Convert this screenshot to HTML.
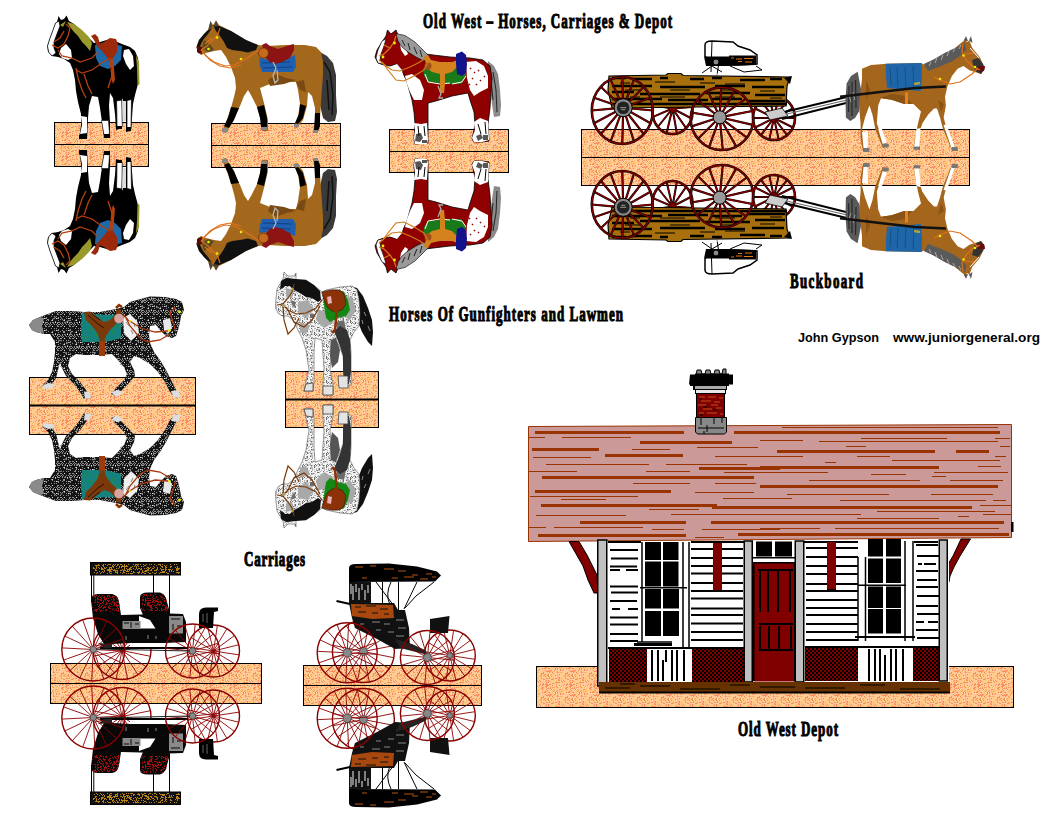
<!DOCTYPE html>
<html><head><meta charset="utf-8"><style>
html,body{margin:0;padding:0;background:#fff;}
svg{display:block;}
.h{font-family:"Liberation Serif",serif;font-weight:bold;font-size:21px;fill:#000;stroke:#000;stroke-width:1.1px;}
.s{font-family:"Liberation Sans",sans-serif;font-weight:bold;font-size:13px;fill:#000;}
</style></head><body>
<svg width="1056" height="816" viewBox="0 0 1056 816">
<defs><pattern id="pe" width="24" height="24" patternUnits="userSpaceOnUse"><rect width="24" height="24" fill="#ffcc99"/><path d="M0 0h1v1h-1zM5 0h1v1h-1zM6 0h1v1h-1zM9 0h1v1h-1zM15 0h1v1h-1zM21 0h1v1h-1zM1 1h1v1h-1zM13 1h1v1h-1zM14 1h1v1h-1zM15 1h1v1h-1zM7 2h1v1h-1zM13 2h1v1h-1zM17 2h1v1h-1zM20 2h1v1h-1zM23 2h1v1h-1zM3 3h1v1h-1zM5 3h1v1h-1zM13 3h1v1h-1zM15 3h1v1h-1zM16 3h1v1h-1zM19 3h1v1h-1zM20 3h1v1h-1zM12 4h1v1h-1zM17 4h1v1h-1zM20 4h1v1h-1zM23 4h1v1h-1zM6 5h1v1h-1zM7 5h1v1h-1zM21 5h1v1h-1zM1 6h1v1h-1zM3 6h1v1h-1zM4 6h1v1h-1zM7 6h1v1h-1zM13 6h1v1h-1zM18 6h1v1h-1zM19 6h1v1h-1zM21 6h1v1h-1zM0 7h1v1h-1zM6 7h1v1h-1zM15 7h1v1h-1zM16 7h1v1h-1zM23 7h1v1h-1zM6 8h1v1h-1zM7 8h1v1h-1zM11 8h1v1h-1zM18 8h1v1h-1zM20 8h1v1h-1zM9 9h1v1h-1zM12 9h1v1h-1zM17 9h1v1h-1zM20 9h1v1h-1zM3 10h1v1h-1zM4 10h1v1h-1zM5 10h1v1h-1zM6 10h1v1h-1zM7 10h1v1h-1zM10 10h1v1h-1zM18 10h1v1h-1zM20 10h1v1h-1zM0 11h1v1h-1zM1 11h1v1h-1zM15 11h1v1h-1zM18 11h1v1h-1zM4 12h1v1h-1zM12 12h1v1h-1zM14 12h1v1h-1zM15 12h1v1h-1zM17 12h1v1h-1zM18 12h1v1h-1zM19 12h1v1h-1zM21 12h1v1h-1zM22 12h1v1h-1zM0 13h1v1h-1zM7 13h1v1h-1zM11 13h1v1h-1zM14 13h1v1h-1zM18 13h1v1h-1zM19 13h1v1h-1zM20 13h1v1h-1zM4 14h1v1h-1zM9 14h1v1h-1zM17 14h1v1h-1zM18 14h1v1h-1zM0 15h1v1h-1zM2 15h1v1h-1zM5 15h1v1h-1zM14 15h1v1h-1zM15 15h1v1h-1zM18 15h1v1h-1zM22 15h1v1h-1zM13 16h1v1h-1zM14 16h1v1h-1zM19 16h1v1h-1zM20 16h1v1h-1zM22 16h1v1h-1zM7 17h1v1h-1zM8 17h1v1h-1zM14 17h1v1h-1zM18 17h1v1h-1zM23 17h1v1h-1zM2 18h1v1h-1zM5 18h1v1h-1zM19 18h1v1h-1zM1 19h1v1h-1zM4 19h1v1h-1zM7 19h1v1h-1zM9 19h1v1h-1zM17 19h1v1h-1zM18 19h1v1h-1zM3 20h1v1h-1zM5 20h1v1h-1zM14 20h1v1h-1zM16 20h1v1h-1zM17 20h1v1h-1zM20 20h1v1h-1zM21 20h1v1h-1zM3 21h1v1h-1zM5 21h1v1h-1zM8 21h1v1h-1zM11 21h1v1h-1zM2 22h1v1h-1zM8 22h1v1h-1zM10 22h1v1h-1zM17 22h1v1h-1zM20 22h1v1h-1zM22 22h1v1h-1zM23 22h1v1h-1zM5 23h1v1h-1zM18 23h1v1h-1zM19 23h1v1h-1zM20 23h1v1h-1zM21 23h1v1h-1zM22 23h1v1h-1z" fill="#f98c5c"/><path d="M8 0h1v1h-1zM0 1h1v1h-1zM19 1h1v1h-1zM16 2h1v1h-1zM0 3h1v1h-1zM7 3h1v1h-1zM12 3h1v1h-1zM22 3h1v1h-1zM13 4h1v1h-1zM10 5h1v1h-1zM13 5h1v1h-1zM15 5h1v1h-1zM18 5h1v1h-1zM0 6h1v1h-1zM8 6h1v1h-1zM9 6h1v1h-1zM14 6h1v1h-1zM1 7h1v1h-1zM7 7h1v1h-1zM9 7h1v1h-1zM4 8h1v1h-1zM9 8h1v1h-1zM21 8h1v1h-1zM4 9h1v1h-1zM21 9h1v1h-1zM22 9h1v1h-1zM12 10h1v1h-1zM13 10h1v1h-1zM19 10h1v1h-1zM2 12h1v1h-1zM15 13h1v1h-1zM1 15h1v1h-1zM4 15h1v1h-1zM8 15h1v1h-1zM13 15h1v1h-1zM20 15h1v1h-1zM21 16h1v1h-1zM2 17h1v1h-1zM4 17h1v1h-1zM10 17h1v1h-1zM15 17h1v1h-1zM0 18h1v1h-1zM10 18h1v1h-1zM14 18h1v1h-1zM10 19h1v1h-1zM16 19h1v1h-1zM0 20h1v1h-1zM8 20h1v1h-1zM15 20h1v1h-1zM9 21h1v1h-1zM21 21h1v1h-1zM2 23h1v1h-1z" fill="#fcc256"/></pattern><pattern id="chk" width="4" height="4" patternUnits="userSpaceOnUse"><rect x="0" y="0" width="2" height="2" fill="#000"/><rect x="2" y="2" width="2" height="2" fill="#000"/></pattern><pattern id="spk" width="12" height="12" patternUnits="userSpaceOnUse"><path d="M1 0h1v1h-1zM3 0h1v1h-1zM6 0h1v1h-1zM8 0h1v1h-1zM10 0h1v1h-1zM11 0h1v1h-1zM2 1h1v1h-1zM9 1h1v1h-1zM0 2h1v1h-1zM1 2h1v1h-1zM9 2h1v1h-1zM10 2h1v1h-1zM3 4h1v1h-1zM6 4h1v1h-1zM8 4h1v1h-1zM10 5h1v1h-1zM6 6h1v1h-1zM9 6h1v1h-1zM10 6h1v1h-1zM0 7h1v1h-1zM4 7h1v1h-1zM3 8h1v1h-1zM10 8h1v1h-1zM7 9h1v1h-1zM2 10h1v1h-1zM4 10h1v1h-1zM5 10h1v1h-1zM9 10h1v1h-1zM10 10h1v1h-1zM11 10h1v1h-1zM0 11h1v1h-1zM2 11h1v1h-1zM5 11h1v1h-1zM9 11h1v1h-1z" fill="#8c8c8c"/><path d="M4 2h1v1h-1zM8 6h1v1h-1zM4 8h1v1h-1zM7 10h1v1h-1z" fill="#e0e0e0"/></pattern><pattern id="mot" width="12" height="12" patternUnits="userSpaceOnUse"><path d="M6 0h1v1h-1zM10 0h1v1h-1zM0 1h1v1h-1zM3 1h1v1h-1zM8 1h1v1h-1zM9 1h1v1h-1zM11 1h1v1h-1zM0 2h1v1h-1zM2 2h1v1h-1zM7 3h1v1h-1zM2 4h1v1h-1zM3 4h1v1h-1zM8 4h1v1h-1zM0 5h1v1h-1zM4 5h1v1h-1zM6 5h1v1h-1zM7 5h1v1h-1zM9 5h1v1h-1zM0 6h1v1h-1zM2 6h1v1h-1zM4 6h1v1h-1zM6 6h1v1h-1zM0 7h1v1h-1zM4 7h1v1h-1zM6 7h1v1h-1zM11 7h1v1h-1zM0 8h1v1h-1zM10 8h1v1h-1zM11 8h1v1h-1zM3 9h1v1h-1zM6 9h1v1h-1zM11 9h1v1h-1zM0 10h1v1h-1zM8 10h1v1h-1zM10 10h1v1h-1zM5 11h1v1h-1zM6 11h1v1h-1zM9 11h1v1h-1zM10 11h1v1h-1z" fill="#b4b4b4"/><path d="M1 2h1v1h-1zM11 2h1v1h-1zM5 3h1v1h-1zM6 3h1v1h-1zM11 4h1v1h-1zM5 5h1v1h-1zM7 6h1v1h-1zM7 7h1v1h-1zM10 7h1v1h-1zM2 8h1v1h-1zM2 9h1v1h-1zM2 10h1v1h-1zM4 10h1v1h-1zM7 10h1v1h-1zM11 10h1v1h-1zM3 11h1v1h-1zM7 11h1v1h-1z" fill="#6e6e6e"/></pattern></defs>
<rect width="1056" height="816" fill="#fff"/>
<!-- BASES -->
<g id="bases" fill="url(#pe)" stroke="#000" stroke-width="1">
<rect x="54.5" y="122.5" width="94" height="44"/><path d="M54 144.5h95"/>
<rect x="211.5" y="123.5" width="129" height="44"/><path d="M211 145.5h130"/>
<rect x="389.5" y="129.5" width="119" height="43"/><path d="M389 151.5h120"/>
<rect x="581.5" y="129.5" width="388" height="56"/><path d="M581 157.5h389"/>
<rect x="29.5" y="377.5" width="166" height="57"/><path d="M29 405.5h167" stroke-width="2"/>
<rect x="285.5" y="371.5" width="93" height="56"/><path d="M285 399.5h94" stroke-width="2"/>
<rect x="50.5" y="663.5" width="211" height="40"/><path d="M50 683.5h212"/>
<rect x="303.5" y="665.5" width="178" height="40"/><path d="M303 685.5h179"/>
<rect x="536.5" y="666.5" width="477" height="41"/>
</g>
<!-- TEXT -->
<text class="h" transform="translate(423 28) scale(0.62 1)" x="0" y="0" textLength="401.6" lengthAdjust="spacing">Old West – Horses, Carriages &amp; Depot</text>
<text class="h" transform="translate(790 288) scale(0.62 1)" x="0" y="0" textLength="117.7" lengthAdjust="spacing">Buckboard</text>
<text class="h" transform="translate(389 321) scale(0.62 1)" x="0" y="0" textLength="377.4" lengthAdjust="spacing">Horses Of Gunfighters and Lawmen</text>
<text class="h" transform="translate(244 566) scale(0.62 1)" x="0" y="0" textLength="98.4" lengthAdjust="spacing">Carriages</text>
<text class="h" transform="translate(738 736) scale(0.62 1)" x="0" y="0" textLength="161.3" lengthAdjust="spacing">Old West Depot</text>
<text class="s" x="798" y="342" textLength="81" lengthAdjust="spacingAndGlyphs">John Gypson</text>
<text class="s" x="893" y="342" textLength="147" lengthAdjust="spacingAndGlyphs">www.juniorgeneral.org</text>
<!-- 10_horse1.txt -->
<g id="h1">
<!-- black body -->
<path d="M57 22 L58.5 16 L61 20 L64 19 L66.5 15.5 L69 21 L74 24 L82 31 L89 38 L94 43 L100 42 L110 39 L122 44 L130 47 L135 51 L138 58 L139 70 L138 84 L135 95 L133 104 L132 118 L131 131 L126 132 L126 117 L124 103 L122 98 L122 112 L122 128 L116 130 L115 114 L113 98 L110 93 L109 106 L110 122 L110 138 L104 138 L102 122 L100 108 L98 97 L92 96 L89 106 L88 118 L87 139 L79 139 L81 125 L81 114 L78 102 L76 91 L75 80 L73 70 L70 63 L64 59 L58 57 L52 56 L48 51 L47.5 46 L50 39 L53 31 L55 25 Z" fill="#000"/>
<!-- white parts -->
<path d="M55.5 23 L59 21 L60 26 L57 34 L54 42 L54 48 L56 53 L52 56 L48.5 52 L47.5 46 L50 38 L53 30Z" fill="#fff" stroke="#000" stroke-width="0.8"/>
<path d="M61 48 L66 44 L71 50 L72 58 L68 60 L62 58 L59 54Z" fill="#fff"/>
<path d="M81 116 L87 117 L87 133 L80 134 L82 125Z" fill="#fff"/>
<path d="M101.5 120.5 L108.5 120.5 L109.5 134 L104 135Z" fill="#fff" stroke="#000" stroke-width="0.6"/>
<path d="M116.5 101 L121.8 100 L122.3 126.5 L117 127 L116.8 112Z" fill="#fff" stroke="#000" stroke-width="0.7"/><path d="M122.5 101 L126 101 L126 121 L123 121Z" fill="#ddd"/>
<path d="M127 100.5 L131.5 99.5 L131 128 L127 128Z" fill="#fff" stroke="#000" stroke-width="0.7"/>
<path d="M124 50 L129 49 L133 56 L134 66 L130 70 L126 64 L123 56Z" fill="#fff"/>
<!-- hooves -->
<path d="M79 135h8v4h-8zM104 134h6v4h-6zM116 126h6v3h-6zM126 127h5v3.5h-5z" fill="#000"/>
<!-- olive mane and tail -->
<path d="M67 22 L74 24 L82 30 L89 37 L92 43 L90 51 L86 46 L82 42 L78 36 L74 32 L70 27Z" fill="#9a9a2a"/>
<path d="M60 25 L66 21 L63 27Z" fill="#9a9a2a"/>
<path d="M136 55 L139 62 L139.5 84 L137.5 86 L137 68Z" fill="#9a9a2a"/>
<!-- blue blanket -->
<path d="M95 45 L104 43 L118 45 L122 46 L121 60 L115 66 L108 69 L100 66 L96 58Z" fill="#1e6aa8"/>
<!-- saddle -->
<path d="M91 36 L95 34 L98 37 L100 44 L104 42 L110 38 L116 39 L118 44 L117 52 L113 58 L110 62 L106 56 L101 50 L97 46 L94 40Z" fill="#9c2a0a"/>
<path d="M110 58 L112 70 L111 78 L113 84 L115 80 L114 68 L114 60Z" fill="#b04010"/>
<!-- bridle / breastplate -->
<g fill="none" stroke="#b8400e" stroke-width="1.3">
<path d="M52 45 L58 48 L64 44 L68 36 L70 28 L66 24"/>
<path d="M54 42 L60 38 L64 31"/>
<path d="M58 50 L62 56 L72 58 L80 62 L92 58 L98 52"/>
<path d="M76 70 L82 73 L92 70 L103 62 L110 58"/>
<path d="M76 68 L78 78 L82 90 L86 98"/>
<path d="M84 74 L88 86 L92 94"/>
<path d="M110 60 L112 76 L108 88"/>
</g>
</g>
<use href="#h1" transform="translate(0 289) scale(1 -1)"/>

<!-- 11_horse2.txt -->
<g id="h2">
<!-- tail -->
<path d="M320 52 L327 56 L333 63 L336 75 L336 95 L337 112 L335 121 L328 122 L323 118 L320 105 L318 90 L319 72Z" fill="#3a3a3a"/>
<path d="M324 62 L330 72 L333 95 L332 115 M327 80 L329 110" stroke="#111" stroke-width="1.5" fill="none"/>
<!-- body -->
<path d="M208 30 L210.5 21 L213 25 L216 20.5 L219 25 L231 31 L246 40 L258 45 L268 46 L285 45 L305 45 L316 47 L321 52 L323 62 L323 75 L322 88 L321 102 L320 118 L318 132 L313 132 L315 122 L315 108 L312 96 L308 92 L307 106 L303 120 L297 128 L294 127 L298 116 L300 104 L298 90 L296 82 L284 82 L270 84 L260 88 L264 103 L268 120 L268 131 L262 131 L261 120 L257 107 L251 95 L248 90 L244 96 L240 106 L234 118 L229 128 L226 133 L222 132 L226 122 L231 108 L234 97 L236 88 L235 78 L231 67 L226 57 L221 50 L214 51 L206 53 L201 55 L198 53 L196.5 47 L199 40 L204 34Z" fill="#a4681c"/>
<!-- dark shading -->
<path d="M268 80 L276 74 L286 78 L296 80 L284 84 L270 86Z" fill="#7a4a14"/>
<path d="M296 82 L300 90 L306 92 L304 80Z" fill="#7a4a14"/>
<!-- black mane / face -->
<path d="M213 25 L219 26 L231 31 L246 40 L258 45 L256 50 L248 52.5 L240 51 L232 50 L227 48 L224 42 L220 36 L216 31Z" fill="#111"/>
<path d="M208 30 L212 28 L208 34 L203 40 L200 46 L202 53 L198 53 L196.5 47 L199 40 L204 34Z" fill="#111"/>
<path d="M197 46 L202 47 L202 54 L197 52Z" fill="#5a0a0a"/>
<path d="M208.5 29 L210.5 21 L212.5 27Z M214 27 L216 20.5 L218.5 26Z" fill="#444"/>
<path d="M204 40 L210 44 L214 50 L208 52 L202 48Z" fill="#5a4a20"/>
<!-- socks -->
<path d="M231 107 L239 108 L234 120 L229 128 L224 126 L228 118Z" fill="#000"/>
<path d="M257 107 L264 105 L267 118 L267 127 L261 127 L260 118Z" fill="#000"/>
<path d="M300 104 L306 106 L303 118 L298 124 L295 123 L299 114Z" fill="#000"/>
<path d="M315 113 L320 113 L320 126 L318 131 L314 131Z" fill="#000"/>
<path d="M222 128h6v4h-6zM261 127h6v3h-6zM294 124h5v3h-5zM313 130h5v3h-5z" fill="#888"/>
<!-- blanket -->
<path d="M259 58 L271 60 L286 59 L295 55 L296 67 L293 72 L280 72 L262 72 L260 66Z" fill="#1e5fb0"/>
<path d="M262 63 L290 62 M263 68 L292 67" stroke="#123f80" stroke-width="1" fill="none"/>
<!-- saddle -->
<path d="M262 45 L266 43 L270 46 L278 49 L290 45 L294 44 L294 50 L290 58 L282 62 L275 64 L270 62 L265 57Z" fill="#8e1414"/>
<circle cx="263.5" cy="53" r="5" fill="#c66a1e" stroke="#6a3008" stroke-width="0.8"/>
<path d="M273 62 L276 68 L273 76 L275 83 L278 80 L277 70" stroke="#bbb" stroke-width="1.2" fill="none"/>
<!-- bridle reins -->
<g fill="none" stroke="#e07018" stroke-width="1.1">
<path d="M201 50 L207 46 L213 40 L218 34 L220 28"/>
<path d="M201 50 L206 56 L214 62 L225 66 L234 65 L244 60 L252 55 L259 50"/>
<path d="M203 52 L210 60 L220 66 L230 68 L241 65"/>
<path d="M205 44 L212 38"/>
</g>
<circle cx="217" cy="37.5" r="1.3" fill="#ee0"/><circle cx="208.5" cy="49" r="1.3" fill="#ee0"/><circle cx="241" cy="59" r="1.3" fill="#ee0"/>
</g>
<use href="#h2" transform="translate(0 291) scale(1 -1)"/>

<!-- 12_horse3.txt -->
<g id="h3">
<!-- tail -->
<path d="M488 61 L494 66 L498 74 L500 90 L501 105 L500 116 L494 117 L492 104 L490 88 L488 76Z" fill="#8a8a8a"/>
<path d="M493 72 L496 90 L497 112 M491 80 L493 100" stroke="#222" stroke-width="1" fill="none"/>
<!-- body -->
<path d="M386 36 L387.5 30 L391 34 L396 30 L398 35 L405 37 L415 44 L425 54 L450 57 L470 58 L483 60 L490 66 L492 78 L491 92 L490 108 L488 124 L489 141 L482 142 L474 142 L472 139 L475 125 L474 112 L470 100 L468 93 L452 96 L436 101 L428 103 L428 124 L428 143 L415 144 L414 138 L415 124 L414 112 L412 100 L410 93 L407 82 L402 71 L397 64 L390 66 L384 65 L378 63 L375 57 L377 50 L382 42Z" fill="#8f0000" stroke="#000" stroke-width="0.8"/>
<!-- white patches -->
<path d="M382 41 L386 39 L384 46 L381 54 L380 60 L383 64 L378 63 L376 58 L378 50Z" fill="#fff" stroke="#000" stroke-width="0.6"/>
<path d="M400 44 L404 44 L408 54 L405 56 L401 50Z" fill="#fff"/>
<path d="M390 67 L397 64 L402 70 L403 79 L396 80 L391 74Z" fill="#fff"/>
<path d="M405 76 L412 74 L420 80 L424 90 L422 100 L414 100 L410 92 L407 84Z" fill="#fff"/>
<path d="M466 62 L476 61 L484 66 L488 76 L488 88 L480 92 L474 96 L470 90 L467 78Z" fill="#fff"/>
<path d="M470 68l1 1M474 72l1 1M478 70l1 1M472 78l1 1M480 80l1 1M476 84l1 1M484 76l1 1M469 84l1 1" stroke="#8f0000" stroke-width="1.5"/>
<!-- legs white lower -->
<path d="M414 123 L421 124 L427 123 L428 140 L427 144 L415 144 L414 138 L415 130Z" fill="#fff"/>
<path d="M474 122 L480 118 L488 121 L489 140 L482 142 L474 142 L472 138 L475 130Z" fill="#fff"/>
<path d="M416 134 l5 -1 l2 5 l-3 4 l-5 -1z M422 140 h5 v3 h-5z M476 136 l5 -2 l2 4 l-5 3z M483 135 h5 v5 h-5z" fill="#555"/>
<path d="M418 126 L419 136 M424 126 L425 136 M478 124 L481 134 M485 122 L486 134" stroke="#000" stroke-width="1"/>
<!-- grey mane -->
<path d="M396 33.5 L405 35.5 L415 42 L424 51 L429 56 L424 61 L416 57 L408 52 L402 47 L398 41Z" fill="#9a9a9a" stroke="#000" stroke-width="0.6"/>
<path d="M402 40 L405 46 M408 43 L410 50 M414 47 L417 54 M420 50 L422 57" stroke="#222" stroke-width="1"/>
<!-- saddle: green blanket -->
<path d="M423 68 L432 66 L446 66 L460 64 L466 64 L466 76 L461 84 L450 84 L438 83 L428 82 L424 76Z" fill="#1a7a1a"/>
<path d="M425 74 L428 82 L440 84 L450 83 M452 84 L462 82 L466 76" stroke="#fff" stroke-width="1" fill="none"/>
<!-- orange saddle -->
<path d="M424 56 L428 55 L431 60 L440 62 L452 62 L458 60 L458 66 L452 72 L445 74 L445 84 L444 93 L440 93 L440 74 L432 72 L427 68Z" fill="#d4821e"/>
<circle cx="428" cy="66" r="3.5" fill="#a0501a"/>
<!-- blue bedroll -->
<path d="M456 54 L462 51.5 L466 55 L467 64 L466 73 L462 76 L457 74 L456 64Z" fill="#12128c"/>
<!-- stirrup -->
<path d="M438 86 L441 94 L439 98 L443 98" stroke="#aaa" stroke-width="1.3" fill="none"/>
<!-- bridle -->
<g fill="none" stroke="#d07a1a" stroke-width="1.2">
<path d="M379 56 L384 54 L390 48 L394 42 L396 36"/>
<path d="M379 60 L386 66 L392 70 L400 71 L410 67 L420 62 L428 56"/>
<path d="M382 62 L388 70 L396 80 L404 81 L414 76 L424 70 L428 62"/>
<path d="M384 45 L390 48"/>
</g>
<circle cx="394.5" cy="43" r="1.4" fill="#ee0"/><circle cx="383" cy="57" r="1.4" fill="#ee0"/>
</g>
<use href="#h3" transform="translate(0 303) scale(1 -1)"/>

<!-- 13_horse4.txt -->
<g id="h4">
<!-- body dark -->
<path id="h4b" d="M29 325 L33 320 L40 317 L48 314 L56 311 L72 311 L84 312 L100 312 L116 309 L124 307 L130 302 L137 300 L150 296.5 L165 297 L176 299 L182 302 L184 310 L181 316 L180 322 L178 330 L176 336 L172 338 L166 336 L160 330 L156 325 L150 326 L149 335 L150 343 L154 352 L160 360 L166 370 L170 378 L175 388 L180 396 L176 398 L170 392 L165 382 L158 372 L150 364 L140 358 L134 356 L130 362 L134 370 L135 376 L128 384 L122 390 L116 396 L111 394 L116 388 L124 380 L127 374 L124 367 L116 358 L112 354 L98 355 L84 355 L76 354 L70 358 L68 366 L72 374 L80 382 L86 390 L90 398 L84 399 L80 392 L74 384 L66 376 L62 368 L60 362 L58 370 L56 378 L52 384 L46 388 L42 386 L48 380 L52 372 L54 362 L55 352 L55 342 L50 334 L44 334 L36 332 L32 330Z" fill="#141414"/><path d="M29 325 L33 320 L40 317 L48 314 L56 311 L72 311 L84 312 L100 312 L116 309 L124 307 L130 302 L137 300 L150 296.5 L165 297 L176 299 L182 302 L184 310 L181 316 L180 322 L178 330 L176 336 L172 338 L166 336 L160 330 L156 325 L150 326 L149 335 L150 343 L154 352 L160 360 L166 370 L170 378 L175 388 L180 396 L176 398 L170 392 L165 382 L158 372 L150 364 L140 358 L134 356 L130 362 L134 370 L135 376 L128 384 L122 390 L116 396 L111 394 L116 388 L124 380 L127 374 L124 367 L116 358 L112 354 L98 355 L84 355 L76 354 L70 358 L68 366 L72 374 L80 382 L86 390 L90 398 L84 399 L80 392 L74 384 L66 376 L62 368 L60 362 L58 370 L56 378 L52 384 L46 388 L42 386 L48 380 L52 372 L54 362 L55 352 L55 342 L50 334 L44 334 L36 332 L32 330Z" fill="url(#spk)"/>
<!-- grey speckle -->
<g stroke="#9a9a9a" stroke-width="1" fill="none">
<path d="M38 322l4-2M46 318l3 3M52 320l4-3M60 316l3 4M66 322l4-2M62 330l3 3M70 334l2-3M58 340l4 1M66 344l3-2M74 340l3 3M76 348l4-1M64 352l3 2M86 348l3-2M92 352l4 1M104 350l3 2"/>
<path d="M134 306l4-3M142 302l4-2M150 300l4-2M158 300l4 1M166 301l3 2M140 310l4-3M148 306l4-2M156 306l3 2M138 318l3-3M146 314l3-2M174 308l3 2M132 330l3 3M136 340l3 2M142 346l2 3M128 348l3 2M152 356l3 3M160 364l2 3M166 374l2 3M120 364l3 2M126 372l2 3M60 366l3 2M66 374l3 2M76 380l2 3M50 374l2 3"/>
</g>
<path d="M163 320 L170 318 L172 328 L168 334 L164 330Z" fill="#e8e8e8"/>
<path d="M123 318 L130 314 L137 321 L139 333 L131 341 L124 333Z" fill="#f0f0f0"/><path d="M126 322l3 4M131 330l2 4M134 324l1 3" stroke="#888" stroke-width="1"/>
<path d="M42 386 L48 383 L55 384 L52 388 L44 389Z M84 392 L90 391 L91 398 L85 399Z M111 392 L118 390 L124 392 L116 397Z M171 391 L178 390 L181 397 L174 398Z" fill="#ddd"/>
<path d="M29 325 L33 320 L40 317 L44 318 L42 326 L44 333 L36 332 L32 330Z" fill="#8a8a8a"/>
<!-- blanket teal -->
<path d="M82 313 L92 314 L108 315 L121 314 L121 338 L110 341 L96 342 L82 342 L81 330Z" fill="#15827e"/>
<path d="M86 320l2 1M90 330l2 1M95 336l2-1M112 332l2 1M116 326l2 1M100 325l1 2M108 322l2 1M85 338l2-1" stroke="#2a8a2a" stroke-width="2"/>
<!-- saddle -->
<path d="M84 312 L90 311.5 L96 316 L104 322 L110 320 L116 314 L116 310 L121 309 L121 316 L116 324 L110 330 L106 336 L104 342 L100 342 L98 334 L92 326 L86 320Z" fill="#7c3a0c"/>
<path d="M88 315 L98 324 L104 328 M92 314 L100 320" stroke="#2a1000" stroke-width="1" fill="none"/>
<path d="M99 341 L105 341 L105 356 L99 356Z" fill="#9c3c0c"/>
<circle cx="119" cy="318.5" r="4.8" fill="#d8a4a0"/>
<path d="M116 308 L119 305 L122 307" stroke="#8c3000" stroke-width="2.5" fill="none"/>
<!-- bridle -->
<g fill="none" stroke="#a8360c" stroke-width="1.3">
<path d="M175 307 L170 313 L176 332"/>
<path d="M168 331 L155 332 L141 328 L128 320 L123 314"/>
<path d="M170 334 L160 340 L148 342 L140 338 L130 326 L126 318"/>
</g>
<circle cx="179.5" cy="312" r="1.4" fill="#ee0"/><circle cx="169.5" cy="330.5" r="1.4" fill="#ee0"/><circle cx="130" cy="321" r="1" fill="#ee0"/>
</g>
<use href="#h4" transform="translate(0 812) scale(1 -1)"/>

<!-- 14_horse5.txt -->
<g id="h5">
<!-- tail black -->
<path d="M350 286 L357 288 L363 296 L368 308 L372 320 L373 332 L372 346 L368 342 L362 332 L358 322 L357 310 L355 298Z" fill="#111"/>
<path d="M364 312l2 4M368 326l2 5M362 320l1 4" stroke="#888" stroke-width="1"/>
<!-- body light -->
<path d="M283 279 L284 272 L288 276 L294 276 L296 273 L296 280 L306 280 L316 287 L322 292 L326 290 L340 287 L352 286 L357 290 L359 300 L360 314 L359 326 L354 332 L350 340 L351 352 L351 370 L352 383 L348 386 L345 383 L344 370 L343 356 L339 345 L334 338 L330 341 L331 358 L330 370 L333 384 L333 395 L323 395 L323 383 L324 368 L323 355 L322 340 L315 338 L314 352 L314 370 L314 382 L313 391 L304 391 L306 382 L309 370 L306 350 L302 338 L298 330 L293 320 L288 316 L282 316 L278 313 L275.5 308 L276 298 L277 289Z" fill="#f2f2f2" stroke="#555" stroke-width="0.6"/><path d="M283 279 L284 272 L288 276 L294 276 L296 273 L296 280 L306 280 L316 287 L322 292 L326 290 L340 287 L352 286 L357 290 L359 300 L360 314 L359 326 L354 332 L350 340 L351 352 L351 370 L352 383 L348 386 L345 383 L344 370 L343 356 L339 345 L334 338 L330 341 L331 358 L330 370 L333 384 L333 395 L323 395 L323 383 L324 368 L323 355 L322 340 L315 338 L314 352 L314 370 L314 382 L313 391 L304 391 L306 382 L309 370 L306 350 L302 338 L298 330 L293 320 L288 316 L282 316 L278 313 L275.5 308 L276 298 L277 289Z" fill="url(#mot)"/>
<!-- grey mottling -->
<g fill="#a8a8a8">
<path d="M298 302 L308 300 L314 310 L306 318 L298 312Z"/>
<path d="M318 310 L330 312 L334 322 L324 328 L316 320Z"/>
<path d="M340 300 L352 296 L356 310 L350 320 L340 314Z"/>
<path d="M300 322 L310 326 L306 334 L300 332Z"/>
<path d="M286 288 L294 290 L292 298 L286 296Z"/>
</g>
<g fill="#6a6a6a">
<path d="M336 322 L344 320 L346 330 L338 334Z"/><path d="M290 300 L296 302 L294 308Z"/><path d="M310 314l4 0l0 4l-4 0z"/>
</g>
<!-- hind legs dark -->
<path d="M334 331 L340 326 L347 330 L350 340 L351 356 L351 372 L349 384 L344 384 L343 370 L343 356 L340 346Z" fill="#333"/>
<path d="M331 340 L336 338 L340 350 L338 362 L332 368 L330 356Z" fill="#555"/>
<path d="M306 384 L313 383 L313 391 L304 391Z M323 386 L333 386 L333 395 L323 395Z M338 376 L348 376 L348 388 L339 388Z" fill="#e4e4e4" stroke="#444" stroke-width="0.8"/>
<!-- black mane -->
<path d="M281 281 L286 278 L296 279 L306 280 L314 285 L320 291 L321 300 L318 302 L312 298 L306 297 L300 293 L294 290 L290 286 L285 286 L280 290Z" fill="#111"/>
<!-- green blanket & saddle -->
<path d="M323 294 L336 290 L344 292 L348 300 L350 310 L346 316 L338 318 L330 322 L326 318 L324 306Z" fill="#138813"/>
<path d="M322 292 L330 290 L340 290 L344 294 L346 304 L342 310 L334 312 L328 308 L324 300Z" fill="#8c3208" stroke="#3a1000" stroke-width="0.6"/>
<path d="M327 297 L331 296 L332 303 L328 304Z" fill="#e8b0b0"/>
<path d="M334 311 L337 311 L335 330 L332 333" stroke="#8c3208" stroke-width="2.5" fill="none"/>
<!-- bridle -->
<g fill="none" stroke="#7a3808" stroke-width="1.2">
<path d="M294 284 L292 292 L288 298 L283 304 L277 305"/>
<path d="M283 305 L288 310 L296 314 L306 313 L316 308 L322 300"/>
<path d="M283 306 L284 320 L288 334 L294 328 L299 318"/>
<path d="M288 310 L294 322 L304 327 L312 320 L320 306"/>
</g>
<circle cx="292.5" cy="289" r="1.3" fill="#b0a040"/><circle cx="284" cy="306" r="1.3" fill="#b0a040"/>
</g>
<use href="#h5" transform="translate(0 800) scale(1 -1)"/>

<!-- 20_buckboard.txt -->
<g id="bb">
<path d="M672.5 108.5L691.6 118.5M672.5 108.5L686.1 128.1M672.5 108.5L676.9 133.5M672.5 108.5L666.6 133.0M672.5 108.5L657.8 127.0M672.5 108.5L653.0 116.9M672.5 108.5L653.4 105.5M672.5 108.5L658.9 95.9M672.5 108.5L668.1 90.5M672.5 108.5L678.4 91.0M672.5 108.5L687.2 97.0M672.5 108.5L692.0 107.1" stroke="#000" stroke-width="2.0"/>
<path d="M672.5 108.5L691.6 118.5M672.5 108.5L686.1 128.1M672.5 108.5L676.9 133.5M672.5 108.5L666.6 133.0M672.5 108.5L657.8 127.0M672.5 108.5L653.0 116.9M672.5 108.5L653.4 105.5M672.5 108.5L658.9 95.9M672.5 108.5L668.1 90.5M672.5 108.5L678.4 91.0M672.5 108.5L687.2 97.0M672.5 108.5L692.0 107.1" stroke="#800000" stroke-width="1.2"/>
<ellipse cx="672.5" cy="112" rx="20" ry="22" fill="none" stroke="#000" stroke-width="2.6"/>
<ellipse cx="672.5" cy="112" rx="20" ry="22" fill="none" stroke="#800000" stroke-width="1.5"/>
<path d="M774.0 118.0L795.0 118.0M774.0 118.0L792.9 127.5M774.0 118.0L787.1 135.2M774.0 118.0L778.7 139.4M774.0 118.0L769.3 139.4M774.0 118.0L760.9 135.2M774.0 118.0L755.1 127.5M774.0 118.0L753.0 118.0M774.0 118.0L755.1 108.5M774.0 118.0L760.9 100.8M774.0 118.0L769.3 96.6M774.0 118.0L778.7 96.6M774.0 118.0L787.1 100.8M774.0 118.0L792.9 108.5" stroke="#000" stroke-width="2.0"/>
<path d="M774.0 118.0L795.0 118.0M774.0 118.0L792.9 127.5M774.0 118.0L787.1 135.2M774.0 118.0L778.7 139.4M774.0 118.0L769.3 139.4M774.0 118.0L760.9 135.2M774.0 118.0L755.1 127.5M774.0 118.0L753.0 118.0M774.0 118.0L755.1 108.5M774.0 118.0L760.9 100.8M774.0 118.0L769.3 96.6M774.0 118.0L778.7 96.6M774.0 118.0L787.1 100.8M774.0 118.0L792.9 108.5" stroke="#800000" stroke-width="1.2"/>
<ellipse cx="774" cy="118" rx="21" ry="22" fill="none" stroke="#000" stroke-width="2.6"/>
<ellipse cx="774" cy="118" rx="21" ry="22" fill="none" stroke="#800000" stroke-width="1.5"/>
<path d="M609 76 L666 75 L668 73.5 L681 73.5 L683 75.5 L790 77 L787 86 L786 106 L612 108 L608 90Z" fill="#a8700c" stroke="#000" stroke-width="1.2"/>
<g stroke="#000" fill="none">
<path d="M612 78h14M632 79h20M660 78h8M690 79h14M712 78h10M740 80h25M770 79h12M612 86h40M660 87h45M715 86h30M752 87h32M612 92h22M640 94h60M705 93h45M755 95h30M612 99h50M668 100h40M712 99h30M748 101h37M612 104h175" stroke-width="2.4"/>
<path d="M620 83h10M655 82h20M700 83h15M725 84h20M625 90h15M670 90h20M720 90h12M760 91h15M630 97h10M660 97h25M715 97h20M770 98h12" stroke-width="1.2"/>
</g>
<path d="M784 78 L792 76 L790 84Z" fill="#000"/>
<path d="M705 45 Q705 41 712 41 L733 42 L738 46 L750 50 L757 55 L757 64 L734 65 L728 60 L708 60 L705 56Z" fill="#fff" stroke="#000" stroke-width="1.5"/>
<path d="M729 55.5 L756 55.5 L756 65 L729 66Z" fill="#000"/>
<path d="M731 58h3M736 59h6M744 58.5h9M738 61.5h4M745 62h7" stroke="#e8780e" stroke-width="1.2"/>
<path d="M704 56.5 L729 56.5 L730 66 L706 66Z" fill="#000"/>
<circle cx="716" cy="62" r="3" fill="#888" stroke="#000"/>
<path d="M712 41 L711 72 M719 62 L717 75 M702 73 L712 66 L722 72 M730 66 L744 72 M744 72 L762 70 L756 66" stroke="#000" stroke-width="1" fill="none"/>
<path d="M700 74h80" stroke="#fff" stroke-width="1"/>
<path d="M623.2 107.7L652.8 110.5M623.2 107.7L650.5 123.3M623.2 107.7L643.9 134.2M623.2 107.7L634.0 141.4M623.2 107.7L622.3 144.0M623.2 107.7L610.6 141.4M623.2 107.7L600.7 134.2M623.2 107.7L594.1 123.3M623.2 107.7L591.8 110.5M623.2 107.7L594.1 97.7M623.2 107.7L600.7 86.8M623.2 107.7L610.6 79.6M623.2 107.7L622.3 77.0M623.2 107.7L634.0 79.6M623.2 107.7L643.9 86.8M623.2 107.7L650.5 97.7" stroke="#000" stroke-width="2.2"/>
<path d="M623.2 107.7L652.8 110.5M623.2 107.7L650.5 123.3M623.2 107.7L643.9 134.2M623.2 107.7L634.0 141.4M623.2 107.7L622.3 144.0M623.2 107.7L610.6 141.4M623.2 107.7L600.7 134.2M623.2 107.7L594.1 123.3M623.2 107.7L591.8 110.5M623.2 107.7L594.1 97.7M623.2 107.7L600.7 86.8M623.2 107.7L610.6 79.6M623.2 107.7L622.3 77.0M623.2 107.7L634.0 79.6M623.2 107.7L643.9 86.8M623.2 107.7L650.5 97.7" stroke="#800000" stroke-width="1.4"/>
<ellipse cx="622.3" cy="110.5" rx="30.5" ry="33.5" fill="none" stroke="#000" stroke-width="2.6"/>
<ellipse cx="622.3" cy="110.5" rx="30.5" ry="33.5" fill="none" stroke="#800000" stroke-width="1.5"/>
<circle cx="623.2" cy="107.7" r="9" fill="#888" stroke="#000" stroke-width="1"/>
<circle cx="623.2" cy="107.7" r="6.3" fill="#222"/>
<path d="M620.2 107.7h6M621.2 109.7h4" stroke="#999" stroke-width="1"/>
<path d="M719.7 117.3L752.7 124.9M719.7 117.3L746.9 137.6M719.7 117.3L736.3 146.6M719.7 117.3L722.8 150.0M719.7 117.3L709.1 147.2M719.7 117.3L698.0 138.8M719.7 117.3L691.7 126.4M719.7 117.3L691.3 112.5M719.7 117.3L697.1 99.8M719.7 117.3L707.7 90.8M719.7 117.3L721.2 87.4M719.7 117.3L734.9 90.2M719.7 117.3L746.0 98.6M719.7 117.3L752.3 111.0" stroke="#000" stroke-width="2.2"/>
<path d="M719.7 117.3L752.7 124.9M719.7 117.3L746.9 137.6M719.7 117.3L736.3 146.6M719.7 117.3L722.8 150.0M719.7 117.3L709.1 147.2M719.7 117.3L698.0 138.8M719.7 117.3L691.7 126.4M719.7 117.3L691.3 112.5M719.7 117.3L697.1 99.8M719.7 117.3L707.7 90.8M719.7 117.3L721.2 87.4M719.7 117.3L734.9 90.2M719.7 117.3L746.0 98.6M719.7 117.3L752.3 111.0" stroke="#800000" stroke-width="1.4"/>
<ellipse cx="722" cy="118.7" rx="31.3" ry="31.3" fill="none" stroke="#000" stroke-width="2.6"/>
<ellipse cx="722" cy="118.7" rx="31.3" ry="31.3" fill="none" stroke="#800000" stroke-width="1.5"/>
<circle cx="719.7" cy="117.3" r="6.5" fill="#999" stroke="#000" stroke-width="1"/>
<path d="M776 114 L855 95 L922 83" stroke="#000" stroke-width="2.2" fill="none"/>
<path d="M782 119 L858 100 L925 87" stroke="#000" stroke-width="2.2" fill="none"/>
<path d="M776 116.5 L858 97.5" stroke="#666" stroke-width="1" fill="none"/>
<path d="M765 112 L782 108 L788 116 L770 120Z" fill="#ccc" stroke="#000" stroke-width="0.8"/>
<path d="M857.6 71.8 L851 76 L846.6 83.5 L845.5 100 L845.9 117.4 L850.3 121 L855 118 L859 111.5 L861 100 L862 94Z" fill="#5a5a5a"/>
<path d="M849 86 L848.5 112 M852 82 L852 116 M855.5 80 L856 108" stroke="#2a2a2a" stroke-width="1.2" fill="none"/>
<path d="M849 96l2 6M853 92l2 8" stroke="#aaa" stroke-width="0.8"/>
<path d="M862 68.8 L870.9 65.1 L887 63.7 L921 63 L923.8 64.4 L931.2 61.5 L943 54 L954.7 48.2 L963.5 40.9 L965 38.5 L967 42 L969.4 40.5 L972.4 48.2 L979.7 57 L984.9 68 L981.2 74 L969.4 70.3 L963.5 65.9 L957.6 68.8 L951.8 76.2 L947.4 86.5 L945 96.8 L945.9 105.6 L943.7 117.4 L945.9 126.2 L952 140 L957.6 151.2 L951.8 149.7 L943 129 L940 117.4 L937 108.5 L934 108.5 L928.2 114.4 L922.4 123.2 L920 130 L919.5 148 L913.5 148 L915 138 L918 123.2 L921 111.5 L913.5 104 L904.7 104 L891.5 99.7 L881 98.2 L878.2 105.6 L876.8 123.2 L882 138 L888.5 146 L882.6 147.5 L875.3 129 L872.4 114.4 L869.4 105.6 L865 117.4 L862 129 L868.5 151 L863 151.5 L860.6 138 L860.6 123.2 L859 105.6 L860.6 91 L862 79Z" fill="#a4661c"/>
<path d="M880 98 L892 94 L905 96 L912 104 L904 104 L891.5 99.7Z M938 100 L944 104 L941 112Z M866 80 L870 90 L866 100Z" fill="#8a5214"/>
<path d="M923.8 64 L934 59.3 L945.9 52.6 L957.6 46.8 L965 43 L966.5 49.7 L960.6 55.6 L951.8 61.5 L940 66.6 L928.2 71 Z" fill="#5a5a5a"/>
<path d="M929 66l2-4M935 63l2-5M941 60l2-5M947 56l2-5M953 52l2-4M959 49l2-4" stroke="#aaa" stroke-width="1"/>
<path d="M964 40.5 L966 36 L968 41Z M969 40.5 L971 36 L972.5 43Z" fill="#555"/>
<path d="M972 60 L978 58 L983 64 L984.5 69 L981 74 L975 71Z" fill="#333"/>
<path d="M978 66 L985 66 L984 71 L979 72Z" fill="#6a0a0a"/>
<path d="M885.6 63.7 L921.6 63 L922 75 L920.9 90.9 L887 88 L886 76Z" fill="#1f66a8"/>
<path d="M890 68 L891 86 M897 67 L898 87 M905 67 L906 88 M913 66 L914 89" stroke="#174f85" stroke-width="1"/>
<path d="M840 96.8 L880 92 L915 88 L945.9 86.5" stroke="#111" stroke-width="2.6" fill="none"/>
<path d="M914 84 L920 83" stroke="#b0a040" stroke-width="2.5"/>
<path d="M906.5 92.4 L906.5 104" stroke="#e8801e" stroke-width="3"/>
<path d="M862 132 L868 131 L867.5 148 L863.5 148Z M878.2 129 L882 129 L887 143 L882.6 144Z M916.5 129 L920.5 128 L919.5 146.8 L914 146.8Z M943.5 125 L946.5 124.7 L955 147 L951.5 148Z" fill="#fff"/>
<path d="M863.5 148h6v4h-6zM882.6 143.8h6v3.7h-6zM913.5 146.8h6.5v3h-6.5zM951.8 147h6v4h-6z" fill="#777"/>
<g fill="none" stroke="#e07018" stroke-width="1.2"><path d="M963 44 L962 52 L966 60 L972 66 L980 70"/><path d="M978 68 L972 74 L960 82 L950 84 L940 80 L934 77"/><path d="M965 54 L975 53"/></g>
<circle cx="963.5" cy="55.5" r="1.3" fill="#ee0"/><circle cx="975" cy="67" r="1.3" fill="#ee0"/><circle cx="940" cy="79" r="1.3" fill="#ee0"/>
<path d="M970 48 L979 58" stroke="#fff" stroke-width="1"/>
</g>
<use href="#bb" transform="translate(0 315) scale(1 -1)"/>
<!-- 30_carriage1.txt -->
<g id="c1">
<path d="M122 650.5L150.4 656.3M122 650.5L146.1 666.7M122 650.5L138.0 674.7M122 650.5L127.6 679.0M122 650.5L116.2 678.9M122 650.5L105.8 674.6M122 650.5L97.8 666.5M122 650.5L93.5 656.1M122 650.5L93.6 644.7M122 650.5L97.9 634.3M122 650.5L106.0 626.3M122 650.5L116.4 622.0M122 650.5L127.8 622.1M122 650.5L138.2 626.4M122 650.5L146.2 634.5M122 650.5L150.5 644.9" stroke="#8b0000" stroke-width="0.9"/>
<circle cx="122" cy="650.5" r="29" fill="none" stroke="#8b0000" stroke-width="1.4"/>
<path d="M213.5 651L239.2 654.9M213.5 651L235.8 664.4M213.5 651L228.9 671.9M213.5 651L219.7 676.2M213.5 651L209.6 676.7M213.5 651L200.1 673.3M213.5 651L192.6 666.4M213.5 651L188.3 657.2M213.5 651L187.8 647.1M213.5 651L191.2 637.6M213.5 651L198.1 630.1M213.5 651L207.3 625.8M213.5 651L217.4 625.3M213.5 651L226.9 628.7M213.5 651L234.4 635.6M213.5 651L238.7 644.8" stroke="#8b0000" stroke-width="0.9"/>
<circle cx="213.5" cy="651" r="26" fill="none" stroke="#8b0000" stroke-width="1.4"/>
<rect x="90.5" y="562.5" width="90" height="12.5" fill="#111" stroke="#000" stroke-width="1"/>
<path d="M98 564h1v1h-1zM103 564h1v1h-1zM105 564h1v1h-1zM108 564h1v1h-1zM109 564h1v1h-1zM110 564h1v1h-1zM113 564h1v1h-1zM115 564h1v1h-1zM117 564h1v1h-1zM118 564h1v1h-1zM120 564h1v1h-1zM121 564h1v1h-1zM124 564h1v1h-1zM128 564h1v1h-1zM133 564h1v1h-1zM135 564h1v1h-1zM136 564h1v1h-1zM137 564h1v1h-1zM138 564h1v1h-1zM140 564h1v1h-1zM143 564h1v1h-1zM146 564h1v1h-1zM149 564h1v1h-1zM151 564h1v1h-1zM154 564h1v1h-1zM158 564h1v1h-1zM159 564h1v1h-1zM160 564h1v1h-1zM162 564h1v1h-1zM170 564h1v1h-1zM174 564h1v1h-1zM176 564h1v1h-1zM95 565h1v1h-1zM96 565h1v1h-1zM97 565h1v1h-1zM98 565h1v1h-1zM99 565h1v1h-1zM102 565h1v1h-1zM103 565h1v1h-1zM107 565h1v1h-1zM112 565h1v1h-1zM114 565h1v1h-1zM117 565h1v1h-1zM122 565h1v1h-1zM124 565h1v1h-1zM126 565h1v1h-1zM135 565h1v1h-1zM137 565h1v1h-1zM144 565h1v1h-1zM145 565h1v1h-1zM156 565h1v1h-1zM160 565h1v1h-1zM164 565h1v1h-1zM166 565h1v1h-1zM96 566h1v1h-1zM103 566h1v1h-1zM112 566h1v1h-1zM113 566h1v1h-1zM116 566h1v1h-1zM119 566h1v1h-1zM121 566h1v1h-1zM122 566h1v1h-1zM123 566h1v1h-1zM124 566h1v1h-1zM125 566h1v1h-1zM126 566h1v1h-1zM127 566h1v1h-1zM132 566h1v1h-1zM134 566h1v1h-1zM136 566h1v1h-1zM138 566h1v1h-1zM141 566h1v1h-1zM143 566h1v1h-1zM153 566h1v1h-1zM161 566h1v1h-1zM162 566h1v1h-1zM165 566h1v1h-1zM170 566h1v1h-1zM171 566h1v1h-1zM177 566h1v1h-1zM93 567h1v1h-1zM96 567h1v1h-1zM98 567h1v1h-1zM101 567h1v1h-1zM104 567h1v1h-1zM106 567h1v1h-1zM109 567h1v1h-1zM110 567h1v1h-1zM111 567h1v1h-1zM113 567h1v1h-1zM119 567h1v1h-1zM121 567h1v1h-1zM124 567h1v1h-1zM130 567h1v1h-1zM131 567h1v1h-1zM136 567h1v1h-1zM147 567h1v1h-1zM148 567h1v1h-1zM150 567h1v1h-1zM154 567h1v1h-1zM157 567h1v1h-1zM162 567h1v1h-1zM165 567h1v1h-1zM166 567h1v1h-1zM170 567h1v1h-1zM175 567h1v1h-1zM177 567h1v1h-1zM93 568h1v1h-1zM94 568h1v1h-1zM96 568h1v1h-1zM99 568h1v1h-1zM101 568h1v1h-1zM102 568h1v1h-1zM104 568h1v1h-1zM105 568h1v1h-1zM109 568h1v1h-1zM111 568h1v1h-1zM116 568h1v1h-1zM118 568h1v1h-1zM124 568h1v1h-1zM126 568h1v1h-1zM129 568h1v1h-1zM130 568h1v1h-1zM133 568h1v1h-1zM136 568h1v1h-1zM138 568h1v1h-1zM139 568h1v1h-1zM141 568h1v1h-1zM144 568h1v1h-1zM146 568h1v1h-1zM148 568h1v1h-1zM149 568h1v1h-1zM152 568h1v1h-1zM153 568h1v1h-1zM157 568h1v1h-1zM160 568h1v1h-1zM165 568h1v1h-1zM176 568h1v1h-1zM177 568h1v1h-1zM178 568h1v1h-1zM179 568h1v1h-1zM95 569h1v1h-1zM101 569h1v1h-1zM102 569h1v1h-1zM103 569h1v1h-1zM107 569h1v1h-1zM108 569h1v1h-1zM109 569h1v1h-1zM110 569h1v1h-1zM111 569h1v1h-1zM112 569h1v1h-1zM114 569h1v1h-1zM122 569h1v1h-1zM124 569h1v1h-1zM127 569h1v1h-1zM128 569h1v1h-1zM129 569h1v1h-1zM130 569h1v1h-1zM131 569h1v1h-1zM135 569h1v1h-1zM137 569h1v1h-1zM140 569h1v1h-1zM141 569h1v1h-1zM147 569h1v1h-1zM148 569h1v1h-1zM151 569h1v1h-1zM156 569h1v1h-1zM157 569h1v1h-1zM161 569h1v1h-1zM162 569h1v1h-1zM163 569h1v1h-1zM165 569h1v1h-1zM166 569h1v1h-1zM168 569h1v1h-1zM169 569h1v1h-1zM170 569h1v1h-1zM172 569h1v1h-1zM176 569h1v1h-1zM177 569h1v1h-1zM178 569h1v1h-1zM95 570h1v1h-1zM96 570h1v1h-1zM104 570h1v1h-1zM107 570h1v1h-1zM108 570h1v1h-1zM109 570h1v1h-1zM110 570h1v1h-1zM113 570h1v1h-1zM114 570h1v1h-1zM115 570h1v1h-1zM116 570h1v1h-1zM117 570h1v1h-1zM120 570h1v1h-1zM121 570h1v1h-1zM123 570h1v1h-1zM124 570h1v1h-1zM125 570h1v1h-1zM127 570h1v1h-1zM129 570h1v1h-1zM142 570h1v1h-1zM145 570h1v1h-1zM146 570h1v1h-1zM147 570h1v1h-1zM148 570h1v1h-1zM150 570h1v1h-1zM151 570h1v1h-1zM154 570h1v1h-1zM155 570h1v1h-1zM156 570h1v1h-1zM161 570h1v1h-1zM165 570h1v1h-1zM169 570h1v1h-1zM171 570h1v1h-1zM176 570h1v1h-1zM177 570h1v1h-1zM99 571h1v1h-1zM102 571h1v1h-1zM104 571h1v1h-1zM109 571h1v1h-1zM110 571h1v1h-1zM111 571h1v1h-1zM115 571h1v1h-1zM117 571h1v1h-1zM123 571h1v1h-1zM126 571h1v1h-1zM127 571h1v1h-1zM128 571h1v1h-1zM131 571h1v1h-1zM133 571h1v1h-1zM139 571h1v1h-1zM142 571h1v1h-1zM144 571h1v1h-1zM145 571h1v1h-1zM146 571h1v1h-1zM162 571h1v1h-1zM163 571h1v1h-1zM164 571h1v1h-1zM169 571h1v1h-1zM171 571h1v1h-1zM173 571h1v1h-1zM94 572h1v1h-1zM97 572h1v1h-1zM101 572h1v1h-1zM103 572h1v1h-1zM109 572h1v1h-1zM115 572h1v1h-1zM116 572h1v1h-1zM117 572h1v1h-1zM120 572h1v1h-1zM123 572h1v1h-1zM124 572h1v1h-1zM133 572h1v1h-1zM134 572h1v1h-1zM137 572h1v1h-1zM138 572h1v1h-1zM139 572h1v1h-1zM142 572h1v1h-1zM143 572h1v1h-1zM148 572h1v1h-1zM152 572h1v1h-1zM156 572h1v1h-1zM160 572h1v1h-1zM161 572h1v1h-1zM162 572h1v1h-1zM163 572h1v1h-1zM164 572h1v1h-1zM166 572h1v1h-1zM176 572h1v1h-1zM177 572h1v1h-1zM178 572h1v1h-1zM179 572h1v1h-1zM96 573h1v1h-1zM100 573h1v1h-1zM107 573h1v1h-1zM110 573h1v1h-1zM111 573h1v1h-1zM117 573h1v1h-1zM122 573h1v1h-1zM126 573h1v1h-1zM128 573h1v1h-1zM130 573h1v1h-1zM131 573h1v1h-1zM132 573h1v1h-1zM138 573h1v1h-1zM141 573h1v1h-1zM144 573h1v1h-1zM145 573h1v1h-1zM149 573h1v1h-1zM150 573h1v1h-1zM154 573h1v1h-1zM155 573h1v1h-1zM159 573h1v1h-1zM167 573h1v1h-1zM168 573h1v1h-1zM178 573h1v1h-1z" fill="#b8841a"/>
<path d="M91.5 575v27M93.8 575v20M153.5 575v18M169.5 575v38" stroke="#000" stroke-width="1"/>
<path d="M91 600 Q91 594 98 594 L112 594 Q118 595 119 602 L121 615 L141 614.5 L169 613.5 L183 614 L186 622 L186 642 L165 643 L131 643 L112 644 L104 644 L98 634 L93 618Z" fill="#080808"/>
<path d="M140 597 Q140 592.5 148 592.5 L160 592.5 Q166 594 167 602 L170 613 L168 628 L156 629 L150 620 L143 615 L140 608Z" fill="#080808"/>
<path d="M139 616 L150 620 L155.5 628.5 L139 628.5Z" fill="#fff"/>
<clipPath id="c1s"><path d="M91 600 Q91 594 98 594 L112 594 Q118 595 119 602 L121 614 L93 614Z M140 597 Q140 592.5 148 592.5 L160 592.5 Q166 594 167 602 L169 612 L141 612Z"/></clipPath><path d="M94 595h1v1h-1zM96 595h1v1h-1zM99 595h1v1h-1zM102 595h1v1h-1zM107 595h1v1h-1zM108 595h1v1h-1zM109 595h1v1h-1zM116 595h1v1h-1zM93 596h1v1h-1zM94 596h1v1h-1zM95 596h1v1h-1zM98 596h1v1h-1zM101 596h1v1h-1zM104 596h1v1h-1zM107 596h1v1h-1zM109 596h1v1h-1zM112 596h1v1h-1zM113 596h1v1h-1zM114 596h1v1h-1zM116 596h1v1h-1zM117 596h1v1h-1zM95 597h1v1h-1zM97 597h1v1h-1zM100 597h1v1h-1zM103 597h1v1h-1zM104 597h1v1h-1zM107 597h1v1h-1zM110 597h1v1h-1zM112 597h1v1h-1zM117 597h1v1h-1zM97 598h1v1h-1zM101 598h1v1h-1zM104 598h1v1h-1zM106 598h1v1h-1zM108 598h1v1h-1zM113 598h1v1h-1zM116 598h1v1h-1zM95 599h1v1h-1zM97 599h1v1h-1zM98 599h1v1h-1zM100 599h1v1h-1zM104 599h1v1h-1zM105 599h1v1h-1zM106 599h1v1h-1zM111 599h1v1h-1zM113 599h1v1h-1zM114 599h1v1h-1zM117 599h1v1h-1zM95 600h1v1h-1zM100 600h1v1h-1zM101 600h1v1h-1zM103 600h1v1h-1zM105 600h1v1h-1zM107 600h1v1h-1zM108 600h1v1h-1zM109 600h1v1h-1zM113 600h1v1h-1zM118 600h1v1h-1zM97 601h1v1h-1zM103 601h1v1h-1zM108 601h1v1h-1zM112 601h1v1h-1zM117 601h1v1h-1zM94 602h1v1h-1zM95 602h1v1h-1zM97 602h1v1h-1zM98 602h1v1h-1zM102 602h1v1h-1zM106 602h1v1h-1zM112 602h1v1h-1zM114 602h1v1h-1zM116 602h1v1h-1zM117 602h1v1h-1zM118 602h1v1h-1zM119 602h1v1h-1zM100 603h1v1h-1zM101 603h1v1h-1zM103 603h1v1h-1zM106 603h1v1h-1zM107 603h1v1h-1zM109 603h1v1h-1zM110 603h1v1h-1zM113 603h1v1h-1zM114 603h1v1h-1zM115 603h1v1h-1zM97 604h1v1h-1zM99 604h1v1h-1zM105 604h1v1h-1zM106 604h1v1h-1zM111 604h1v1h-1zM114 604h1v1h-1zM116 604h1v1h-1zM119 604h1v1h-1zM99 605h1v1h-1zM102 605h1v1h-1zM109 605h1v1h-1zM113 605h1v1h-1zM114 605h1v1h-1zM116 605h1v1h-1zM117 605h1v1h-1zM118 605h1v1h-1zM119 605h1v1h-1zM98 606h1v1h-1zM101 606h1v1h-1zM104 606h1v1h-1zM108 606h1v1h-1zM110 606h1v1h-1zM116 606h1v1h-1zM117 606h1v1h-1zM92 607h1v1h-1zM99 607h1v1h-1zM100 607h1v1h-1zM103 607h1v1h-1zM104 607h1v1h-1zM105 607h1v1h-1zM108 607h1v1h-1zM109 607h1v1h-1zM117 607h1v1h-1zM98 608h1v1h-1zM103 608h1v1h-1zM109 608h1v1h-1zM110 608h1v1h-1zM113 608h1v1h-1zM116 608h1v1h-1zM118 608h1v1h-1zM95 609h1v1h-1zM96 609h1v1h-1zM97 609h1v1h-1zM99 609h1v1h-1zM106 609h1v1h-1zM112 609h1v1h-1zM115 609h1v1h-1zM118 609h1v1h-1zM94 610h1v1h-1zM95 610h1v1h-1zM96 610h1v1h-1zM100 610h1v1h-1zM101 610h1v1h-1zM103 610h1v1h-1zM105 610h1v1h-1zM106 610h1v1h-1zM114 610h1v1h-1zM116 610h1v1h-1zM117 610h1v1h-1zM118 610h1v1h-1zM96 611h1v1h-1zM100 611h1v1h-1zM110 611h1v1h-1zM118 611h1v1h-1zM143 594h1v1h-1zM144 594h1v1h-1zM146 594h1v1h-1zM150 594h1v1h-1zM155 594h1v1h-1zM162 594h1v1h-1zM163 594h1v1h-1zM165 594h1v1h-1zM166 594h1v1h-1zM141 595h1v1h-1zM144 595h1v1h-1zM146 595h1v1h-1zM150 595h1v1h-1zM153 595h1v1h-1zM166 595h1v1h-1zM143 596h1v1h-1zM147 596h1v1h-1zM153 596h1v1h-1zM156 596h1v1h-1zM160 596h1v1h-1zM161 596h1v1h-1zM142 597h1v1h-1zM152 597h1v1h-1zM156 597h1v1h-1zM161 597h1v1h-1zM162 597h1v1h-1zM166 597h1v1h-1zM145 598h1v1h-1zM147 598h1v1h-1zM148 598h1v1h-1zM150 598h1v1h-1zM153 598h1v1h-1zM155 598h1v1h-1zM163 598h1v1h-1zM164 598h1v1h-1zM166 598h1v1h-1zM142 599h1v1h-1zM143 599h1v1h-1zM145 599h1v1h-1zM152 599h1v1h-1zM157 599h1v1h-1zM158 599h1v1h-1zM162 599h1v1h-1zM167 599h1v1h-1zM142 600h1v1h-1zM143 600h1v1h-1zM145 600h1v1h-1zM146 600h1v1h-1zM148 600h1v1h-1zM149 600h1v1h-1zM150 600h1v1h-1zM153 600h1v1h-1zM154 600h1v1h-1zM156 600h1v1h-1zM164 600h1v1h-1zM166 600h1v1h-1zM145 601h1v1h-1zM152 601h1v1h-1zM153 601h1v1h-1zM155 601h1v1h-1zM156 601h1v1h-1zM157 601h1v1h-1zM158 601h1v1h-1zM160 601h1v1h-1zM164 601h1v1h-1zM166 601h1v1h-1zM145 602h1v1h-1zM147 602h1v1h-1zM148 602h1v1h-1zM149 602h1v1h-1zM150 602h1v1h-1zM152 602h1v1h-1zM154 602h1v1h-1zM158 602h1v1h-1zM160 602h1v1h-1zM161 602h1v1h-1zM142 603h1v1h-1zM147 603h1v1h-1zM148 603h1v1h-1zM149 603h1v1h-1zM157 603h1v1h-1zM161 603h1v1h-1zM142 604h1v1h-1zM144 604h1v1h-1zM145 604h1v1h-1zM147 604h1v1h-1zM148 604h1v1h-1zM152 604h1v1h-1zM157 604h1v1h-1zM158 604h1v1h-1zM159 604h1v1h-1zM160 604h1v1h-1zM163 604h1v1h-1zM144 605h1v1h-1zM147 605h1v1h-1zM148 605h1v1h-1zM149 605h1v1h-1zM150 605h1v1h-1zM151 605h1v1h-1zM154 605h1v1h-1zM155 605h1v1h-1zM156 605h1v1h-1zM159 605h1v1h-1zM162 605h1v1h-1zM164 605h1v1h-1zM165 605h1v1h-1zM149 606h1v1h-1zM150 606h1v1h-1zM151 606h1v1h-1zM166 606h1v1h-1zM150 607h1v1h-1zM151 607h1v1h-1zM155 607h1v1h-1zM156 607h1v1h-1zM165 607h1v1h-1zM166 607h1v1h-1zM167 607h1v1h-1zM141 608h1v1h-1zM151 608h1v1h-1zM152 608h1v1h-1zM157 608h1v1h-1zM161 608h1v1h-1zM165 608h1v1h-1zM166 608h1v1h-1zM167 608h1v1h-1zM141 609h1v1h-1zM143 609h1v1h-1zM149 609h1v1h-1zM151 609h1v1h-1zM157 609h1v1h-1zM161 609h1v1h-1zM163 609h1v1h-1zM164 609h1v1h-1zM165 609h1v1h-1zM167 609h1v1h-1zM142 610h1v1h-1zM144 610h1v1h-1zM150 610h1v1h-1zM151 610h1v1h-1zM152 610h1v1h-1zM155 610h1v1h-1zM156 610h1v1h-1zM159 610h1v1h-1zM161 610h1v1h-1zM162 610h1v1h-1zM166 610h1v1h-1z" fill="#a01010" clip-path="url(#c1s)"/>
<path d="M122.5 621h18v8h-18zM169 616h14v17.5h-14z" fill="#8a8a8a"/>
<path d="M124 623h5M131 622v6M135 624h4M171 619h9M173 624v6M177 626h4M126 634v5M145 633v6M150 634v4M158 633v6M164 634v5" stroke="#080808" stroke-width="1"/>
<path d="M126 636v4M148 635v4M156 636v3" stroke="#8a8a8a" stroke-width="1"/>
<path d="M130 643h56v4.5h-56z" fill="#fff"/>
<path d="M100 648h88" stroke="#000" stroke-width="2"/>
<path d="M98 643 L104 648 L112 648 L112 644Z" fill="#222"/>
<path d="M199 628 L199 614 Q199 607.5 206 607.5 L218 607.5 L218 611 L214 612 L213 628Z" fill="#000"/><path d="M203 614v8M207 613v10" stroke="#666" stroke-width="1"/>
<path d="M93.3 649.5L124.8 651.1M93.3 649.5L121.8 663.0M93.3 649.5L114.4 672.9M93.3 649.5L103.9 679.2M93.3 649.5L91.7 681.0M93.3 649.5L79.8 678.0M93.3 649.5L69.9 670.6M93.3 649.5L63.6 660.1M93.3 649.5L61.8 647.9M93.3 649.5L64.8 636.0M93.3 649.5L72.2 626.1M93.3 649.5L82.7 619.8M93.3 649.5L94.9 618.0M93.3 649.5L106.8 621.0M93.3 649.5L116.7 628.4M93.3 649.5L123.0 638.9" stroke="#8b0000" stroke-width="0.9"/>
<circle cx="93.3" cy="649.5" r="31.5" fill="none" stroke="#8b0000" stroke-width="1.4"/>
<circle cx="93.3" cy="649.5" r="3.2" fill="#888" stroke="#444" stroke-width="0.8"/>
<path d="M192.5 651L219.4 653.7M192.5 651L216.3 663.8M192.5 651L209.6 671.9M192.5 651L200.3 676.9M192.5 651L189.8 677.9M192.5 651L179.7 674.8M192.5 651L171.6 668.1M192.5 651L166.6 658.8M192.5 651L165.6 648.3M192.5 651L168.7 638.2M192.5 651L175.4 630.1M192.5 651L184.7 625.1M192.5 651L195.2 624.1M192.5 651L205.3 627.2M192.5 651L213.4 633.9M192.5 651L218.4 643.2" stroke="#8b0000" stroke-width="0.9"/>
<circle cx="192.5" cy="651" r="27" fill="none" stroke="#8b0000" stroke-width="1.4"/>
<circle cx="192.5" cy="651" r="3.2" fill="#888" stroke="#444" stroke-width="0.8"/>
<path d="M96 649 L190 651" stroke="#222" stroke-width="1.2"/>
</g><use href="#c1" transform="translate(0 1367) scale(1 -1)"/>
<!-- 31_carriage2.txt -->
<g id="c2">
<path d="M363.4 651.5L393.8 657.7M363.4 651.5L389.1 668.8M363.4 651.5L380.5 677.3M363.4 651.5L369.3 681.9M363.4 651.5L357.2 681.9M363.4 651.5L346.1 677.2M363.4 651.5L337.6 668.6M363.4 651.5L333.0 657.4M363.4 651.5L333.0 645.3M363.4 651.5L337.7 634.2M363.4 651.5L346.3 625.7M363.4 651.5L357.5 621.1M363.4 651.5L369.6 621.1M363.4 651.5L380.7 625.8M363.4 651.5L389.2 634.4M363.4 651.5L393.8 645.6" stroke="#8b0000" stroke-width="0.9"/>
<circle cx="363.4" cy="651.5" r="31" fill="none" stroke="#8b0000" stroke-width="1.4"/>
<path d="M449.8 655.5L475.0 659.3M449.8 655.5L471.6 668.7M449.8 655.5L464.9 676.0M449.8 655.5L455.9 680.3M449.8 655.5L446.0 680.7M449.8 655.5L436.6 677.3M449.8 655.5L429.3 670.6M449.8 655.5L425.0 661.6M449.8 655.5L424.6 651.7M449.8 655.5L428.0 642.3M449.8 655.5L434.7 635.0M449.8 655.5L443.7 630.7M449.8 655.5L453.6 630.3M449.8 655.5L463.0 633.7M449.8 655.5L470.3 640.4M449.8 655.5L474.6 649.4" stroke="#8b0000" stroke-width="0.9"/>
<circle cx="449.8" cy="655.5" r="25.5" fill="none" stroke="#8b0000" stroke-width="1.4"/>
<circle cx="449.8" cy="655.5" r="2.8" fill="#888" stroke="#444" stroke-width="0.8"/>
<circle cx="363.4" cy="651.5" r="4" fill="#888" stroke="#444" stroke-width="0.8"/>
<path d="M349 568 Q349 564 356 564 L389 563.5 L417 566.5 L437 571.5 L441 575.5 L435 581.5 L349 582Z" fill="#000"/>
<path d="M355 567h8M370 566h6M384 569h10M398 571h8M412 575h6M362 578h5M392 578h6M404 577h10M420 579h8M426 574h6M432 577h4" stroke="#b45414" stroke-width="1"/>
<path d="M349 582h22v21h-22z" fill="#111"/>
<path d="M351 584v10M353 586v14M356 584v8M359 588v12M362 584v6M365 590v10M368 585v8" stroke="#ccc" stroke-width="1.2"/>
<path d="M382.5 582v28M398.5 582v28M376 582 L397 610M417 582 L404 609M434 582 L416 596 L405 608M391 582 Q385 594 390 605" stroke="#000" stroke-width="1" fill="none"/>
<path d="M349 603 L394 603 L398 610 L405 610 L409 628 L410 648 L395 649 L377 639 L355 628 L352 618Z" fill="#111"/>
<path d="M351 604 L393 605 L394 618 L372 619 L352 616Z" fill="#a8480e"/>
<path d="M355 607h6M366 606h10M380 609h8M358 612h8M372 613h6M384 614h5" stroke="#111" stroke-width="1.2"/>
<path d="M372 622h8M384 624h6M396 620h8M398 628h8M388 632h6M396 636h8M376 630h5M360 624h4" stroke="#888" stroke-width="1.2"/>
<path d="M336.5 601 L350 604" stroke="#000" stroke-width="2"/>
<path d="M430 619 L449.5 616 L448 633 L430 633Z" fill="#111"/>
<path d="M395 639 L412 644 L425 650 L428 655 L420 653 L400 648Z" fill="#222"/>
<path d="M347.2 652.8L377.2 654.3M347.2 652.8L374.3 665.7M347.2 652.8L367.3 675.0M347.2 652.8L357.3 681.1M347.2 652.8L345.7 682.8M347.2 652.8L334.3 679.9M347.2 652.8L325.0 672.9M347.2 652.8L318.9 662.9M347.2 652.8L317.2 651.3M347.2 652.8L320.1 639.9M347.2 652.8L327.1 630.6M347.2 652.8L337.1 624.5M347.2 652.8L348.7 622.8M347.2 652.8L360.1 625.7M347.2 652.8L369.4 632.7M347.2 652.8L375.5 642.7" stroke="#8b0000" stroke-width="0.9"/>
<circle cx="347.2" cy="652.8" r="30" fill="none" stroke="#8b0000" stroke-width="1.4"/>
<circle cx="347.2" cy="652.8" r="4.2" fill="#888" stroke="#444" stroke-width="0.8"/>
<path d="M427.4 657.5L454.3 660.2M427.4 657.5L451.2 670.3M427.4 657.5L444.5 678.4M427.4 657.5L435.2 683.4M427.4 657.5L424.7 684.4M427.4 657.5L414.6 681.3M427.4 657.5L406.5 674.6M427.4 657.5L401.5 665.3M427.4 657.5L400.5 654.8M427.4 657.5L403.6 644.7M427.4 657.5L410.3 636.6M427.4 657.5L419.6 631.6M427.4 657.5L430.1 630.6M427.4 657.5L440.2 633.7M427.4 657.5L448.3 640.4M427.4 657.5L453.3 649.7" stroke="#8b0000" stroke-width="0.9"/>
<circle cx="427.4" cy="657.5" r="27" fill="none" stroke="#8b0000" stroke-width="1.4"/>
<circle cx="427.4" cy="657.5" r="4" fill="#888" stroke="#444" stroke-width="0.8"/>
</g><use href="#c2" transform="translate(0 1371) scale(1 -1)"/>
<!-- 50_depot_roof.txt -->
<g id="depot">
<!-- roof -->
<path d="M528.5 426.5L1011.5 424.5L1011.5 537.5L528.5 541.5Z" fill="#cc9999" stroke="#993300" stroke-width="1"/>
<path d="M535 432.5h149M640 442.5h92M532 449.5h67M605 455.5h78M699 468.5h81M542 477.5h212M760 486.5h20M535 491.5h136M541 505.5h176M712 507.5h68M580 522.5h106M711 522.5h69M538 535.5h148M738 534.5h42M734 432.5h46M760 432.5h240M777 451.5h158M956 451.5h33M760 467.5h179M760 486.5h238M760 507.5h212M760 522.5h244M738 534.5h271" stroke="#993300" stroke-width="3" fill="none"/>
<path d="M528 437.5h17M562 437.5h69M697 447.5h61M632 449.5h38M715 456.5h65M533 457.5h58M546 464.5h103M666 464.5h81M528 471.5h49M646 471.5h44M724 472.5h56M633 483.5h57M715 483.5h41M695 492.5h59M530 496.5h108M561 499.5h45M723 498.5h57M649 509.5h50M671 514.5h109M536 515.5h90M528 527.5h18M554 527.5h89M652 529.5h32M702 529.5h78M695 537.5h29M782 427.5h216M861 438.5h86M995 438.5h15M760 440.5h43M819 441.5h179M846 446.5h20M1000 446.5h10M760 456.5h43M857 456.5h33M995 456.5h11M892 460.5h108M825 462.5h11M978 466.5h23M760 472.5h68M934 472.5h74M871 474.5h35M932 476.5h14M809 480.5h111M950 480.5h53M787 494.5h102M931 494.5h62M760 498.5h32M840 500.5h146M993 500.5h13M980 505.5h31M877 511.5h118M760 514.5h101M983 514.5h28M958 516.5h11M857 518.5h82M760 528.5h60M835 528.5h164" stroke="#993300" stroke-width="1" fill="none"/>
<rect x="1011" y="522" width="2.5" height="10" fill="#000"/>

<!-- 51_depot_body.txt -->
<!-- chimney -->
<g>
<path d="M696 376 L697 370 h4 l1 4 h3 l1 -4 h4 l1 4 h3 l1-4h4l1 4h2l1-5h3v7z" fill="#888" stroke="#000" stroke-width="1"/>
<path d="M690 374.5h5v-1h34v1h4v10h-4v1.5h-2v4h-34v-4h-3v-1.5h-1z" fill="#000"/>
<rect x="695" y="386" width="31" height="3" fill="#aaa"/>
<rect x="695.5" y="389.5" width="30" height="4" fill="#e8e8e8" stroke="#000" stroke-width="1"/>
<rect x="696.5" y="393.5" width="28" height="24" fill="#800000" stroke="#000" stroke-width="1"/>
<path d="M699 397h6M708 397h8M719 398h4M701 401h10M714 402h6M698 405h8M711 405h7M703 409h9M716 408h6M699 413h5M707 413h10M720 414h3" stroke="#c0501a" stroke-width="1"/>
<path d="M699 399h3M703 407h4M713 410h4M700 415h3" stroke="#000" stroke-width="1"/>
<path d="M695.5 417.5h31v14.5l-2 2h-27l-2-2z" fill="#888" stroke="#000" stroke-width="1"/>
<path d="M701 418v7M714 418v6M722 418v5M707 425v7M698 428h26M704 431v3" stroke="#000" stroke-width="1"/>
</g>
<!-- brackets -->
<path d="M569 541.5 L579 541.5 L587 555 L597 575 L598 593 L594 593 L588 580 L583 566 Z" fill="#800000" stroke="#000" stroke-width="1"/>
<path d="M961 539 L970.5 539 L960 556 L954 567 L950 576 L949 582 L946.5 582 L947 566 L953 556 Z" fill="#800000" stroke="#000" stroke-width="1"/>
<!-- walls white -->
<rect x="599" y="541" width="350" height="141" fill="#fff"/>
<!-- top black line of wall -->
<rect x="608" y="541" width="330" height="2" fill="#000"/>
<!-- clapboard lines W1 (608-743) -->
<g stroke="#000" stroke-width="1.8">
<path d="M610 550h28M611 558.5h27M610 566.5h27M610 570h10M626 570h12M610 586.5h28M611 592.5h27M610 601h27M610 617.5h28M610 624.5h28M610 634h28M610 641h28M612 609h8M628 609h10"/>
<path d="M690 549h23M722 549h21M690 558h23M722 558h21M690 566h23M722 566h21M690 573.5h23M722 573.5h21M690 583h53M690 591h53M690 598.5h53M690 608.5h53M691 615h52M691 623.5h52M691 632h52M691 640h52"/>
<path d="M806 548h21M836 548h22M806 557h21M836 557h22M806 566h21M836 566h22M806 574h21M836 574h22M806 584h21M836 584h22M806 591h52M806 600h52M806 608h52M806 615h52M806 624h52M806 632h52M806 640h52"/>
<path d="M916 545h22M917 556h22M918 564h4M924 564h12M916 571h22M917 580h20M916 587h22M917 596h22M916 606h22M917 614h22M916 622h8M928 622h10M916 630h22M917 638h22"/>
</g>
<!-- left window -->
<rect x="641" y="541" width="50" height="105" fill="#fff"/>
<path d="M642 542v100M683 542v105M689 542v105M637 642h35" stroke="#000" stroke-width="1.5"/>
<rect x="634" y="643" width="38" height="3" fill="#000"/>
<g fill="#000">
<rect x="645" y="542" width="16" height="18"/><rect x="663" y="542" width="15.5" height="18"/>
<rect x="645" y="561.5" width="16" height="25"/><rect x="663" y="561.5" width="15.5" height="25"/>
<rect x="645" y="589" width="16" height="19.5"/><rect x="663" y="589" width="16" height="19.5"/>
<rect x="645" y="611" width="16" height="25"/><rect x="663" y="611" width="16" height="25"/>
</g>
<rect x="640" y="587" width="47" height="1.5" fill="#000"/>
<!-- red bars -->
<rect x="713" y="543" width="9" height="48" fill="#800000"/><rect x="713" y="590" width="9" height="2" fill="#000"/>
<rect x="827" y="542" width="9" height="48" fill="#800000"/><rect x="827" y="589" width="9" height="2" fill="#000"/>
<!-- right window -->
<rect x="858" y="541" width="56" height="100" fill="#fff"/>
<path d="M858 557v84M865.5 557v84M905 541v100M913 541v100" stroke="#000" stroke-width="1.5"/>
<g fill="#000">
<rect x="868" y="539" width="15" height="17.5"/><rect x="886" y="539" width="15" height="17.5"/>
<rect x="868" y="558.5" width="15" height="24.5"/><rect x="886" y="558.5" width="15" height="24.5"/>
<rect x="868" y="586.5" width="15" height="21.5"/><rect x="886" y="586.5" width="15" height="21.5"/>
<rect x="868" y="609" width="15" height="24.5"/><rect x="886" y="609" width="15" height="24.5"/>
</g>
<rect x="858" y="584.5" width="48" height="1.5" fill="#000"/>
<rect x="855" y="636" width="60" height="2" fill="#000"/>
<!-- transom & door -->
<rect x="753" y="541" width="43" height="23" fill="#fff"/>
<rect x="756" y="541.5" width="16" height="15" fill="#000"/><rect x="775" y="541.5" width="17" height="15" fill="#000"/>
<rect x="752" y="557" width="44" height="1.5" fill="#000"/>
<rect x="753" y="562" width="43" height="2" fill="#000"/>
<rect x="753.5" y="563.5" width="42" height="118" fill="#800000"/>
<g stroke="#000" stroke-width="2" fill="none">
<path d="M760 570v42M768 570v42M778 570v42M790 570v42M758 570h35"/>
<path d="M760 626v24M769 626v24M779 626v24M791 626v24M759 624h34M759 650h34"/>
<path d="M753.5 564v117M795 564v117"/>
</g>
<!-- lower wall brick -->
<g>
<rect x="609" y="649" width="38" height="33" fill="#800000"/>
<rect x="692" y="649" width="52" height="33" fill="#800000"/>
<rect x="805" y="648" width="53" height="33" fill="#800000"/>
<rect x="913" y="648" width="26" height="33" fill="#800000"/>
<rect x="609" y="649" width="38" height="33" fill="url(#chk)"/>
<rect x="692" y="649" width="52" height="33" fill="url(#chk)"/>
<rect x="805" y="648" width="53" height="33" fill="url(#chk)"/>
<rect x="913" y="648" width="26" height="33" fill="url(#chk)"/>
<rect x="608" y="647" width="137" height="2" fill="#000"/>
<rect x="805" y="646" width="134" height="2" fill="#000"/>
<!-- slats -->
<rect x="647" y="649" width="44" height="33" fill="#fff"/>
<path d="M652 650v31M658 650v31M663 660v21M666 650v12M672 650v31M677 650v31M684 650v31" stroke="#000" stroke-width="2"/>
<rect x="865" y="648" width="48" height="33" fill="#fff"/>
<path d="M869 649v32M875 649v32M880 649v32M885 655v26M891 649v32M896 649v32M903 649v32" stroke="#000" stroke-width="2"/>
</g>
<!-- pillars -->
<g fill="#c0c0c0" stroke="#000" stroke-width="1.5">
<rect x="597.75" y="540" width="9" height="146"/>
<rect x="744.25" y="541" width="8" height="141"/>
<rect x="795.25" y="541" width="8.5" height="141"/>
<rect x="939.25" y="540" width="8" height="141"/>
</g>
<!-- floor -->
<path d="M599 682h351v10H599z" fill="#663300"/>
<path d="M599 692.5h351" stroke="#000" stroke-width="2"/>
<path d="M605 688h25M640 686h30M680 689h40M730 685h20M760 687h35M805 688h40M860 685h25M900 689h40M620 684h15" stroke="#000" stroke-width="1"/>
</g>


</svg>
</body></html>
